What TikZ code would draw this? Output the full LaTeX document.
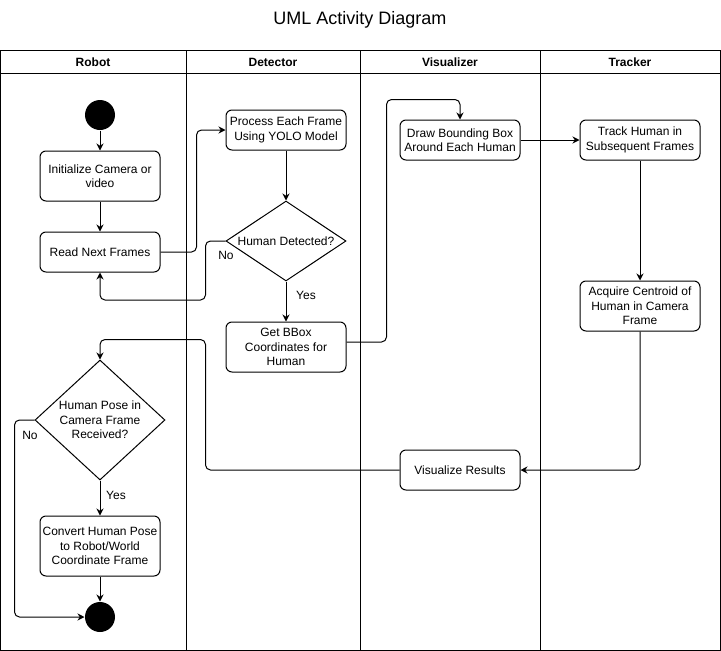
\documentclass[tikz,border=0pt]{standalone}
\usepackage{fontspec}
\setmainfont{Liberation Sans}
\usetikzlibrary{shapes.geometric, arrows.meta, positioning}

\begin{document}
\begin{tikzpicture}[
            x=1pt, y=-1pt,
            line width=1pt,
            font=\fontsize{12}{14.5}\selectfont,
            action/.style={rectangle, draw, rounded corners=6pt, minimum width=120pt, minimum height=40pt, align=center, inner sep=1pt},
            decision/.style={diamond, draw, inner sep=0pt},
            terminal/.style={circle, fill=black, minimum size=30pt, inner sep=0pt},
            lanehead/.style={font=\fontsize{12}{14}\selectfont\bfseries},
            flow/.style={-{Stealth[length=7pt, width=7pt]}, rounded corners=5pt}
        ]
        \useasboundingbox (0,0) rectangle (721,651);

        % Title
        \node[font=\fontsize{18}{20}\selectfont] (title) at (360,20) {UML Activity Diagram};

        % Swimlanes
        \draw (0.5,50) rectangle (720,650);
        \draw (0.5,73) -- (720,73);
        \foreach \x in {186, 360, 540} \draw (\x,50) -- (\x,650);
        \node[lanehead] (robot) at (93,62) {Robot};
        \node[lanehead] (detector) at (273,62) {Detector};
        \node[lanehead] (visualizer) at (450,62) {Visualizer};
        \node[lanehead] (tracker) at (630,62) {Tracker};

        % Robot
        \node[terminal] (start) at (100,115) {};
        \node[action, minimum height=50pt, below=20pt of start] (init) {Initialize Camera or\\video};
        \node[action, below=30pt of init] (read) {Read Next Frames};

        % Detector
        \node[action] (proc) at (286,130) {Process Each Frame\\Using YOLO Model};
        \node[decision, minimum width=120pt, minimum height=80pt, below=50pt of proc,
              label={center:Human Detected?}] (det) {};
        \node[action, minimum height=50pt, below=40pt of det] (bbox) {Get BBox\\Coordinates for\\Human};

        % Visualizer and Tracker
        \node[action] (drawbox) at (460,140) {Draw Bounding Box\\Around Each Human};
        \node[action] (track) at (640,140) {Track Human in\\Subsequent Frames};
        \node[action, minimum height=50pt, below=120pt of track] (acquire) {Acquire Centroid of\\Human in Camera\\Frame};
        \node[action] (visual) at (460,470) {Visualize Results};

        % Robot, second part
        \node[decision, minimum width=130pt, minimum height=120pt, align=center,
              label={[align=center]center:Human Pose in\\Camera Frame\\Received?}] (pose) at (100,420) {};
        \node[action, minimum height=60pt, below=35pt of pose] (convert) {Convert Human Pose\\to Robot/World\\Coordinate Frame};
        \node[terminal, below=25pt of convert] (stop) {};

        % Guard labels
        \node (no1) at (226,255) {No};
        \node (yes1) at (306,295) {Yes};
        \node (no2) at (30,435) {No};
        \node (yes2) at (116,495) {Yes};

        % Connections
        \draw[flow] (start) -- (init);
        \draw[flow] (init) -- (read);
        \draw[flow] (read.east) -- ++(36,0) |- (proc.west);
        \draw[flow] (proc) -- (det);
        \draw[flow] (det.west) -- ++(-20,0) -- ++(0,59) -| (read.south);
        \draw[flow] (det) -- (bbox);
        \draw[flow] ([yshift=5pt]bbox.east) -- ++(40,0) |- ([yshift=20pt]drawbox.north) -- (drawbox.north);
        \draw[flow] (drawbox) -- (track);
        \draw[flow] (track) -- (acquire);
        \draw[flow] (acquire.south) |- (visual.east);
        \draw[flow] (visual.west) -- ++(-194,0) |- ([yshift=20pt]pose.north) -- (pose.north);
        \draw[flow] (pose.west) -- ++(-20,0) |- (stop.west);
        \draw[flow] (pose) -- (convert);
        \draw[flow] (convert) -- (stop);

    \end{tikzpicture}
\end{document}
